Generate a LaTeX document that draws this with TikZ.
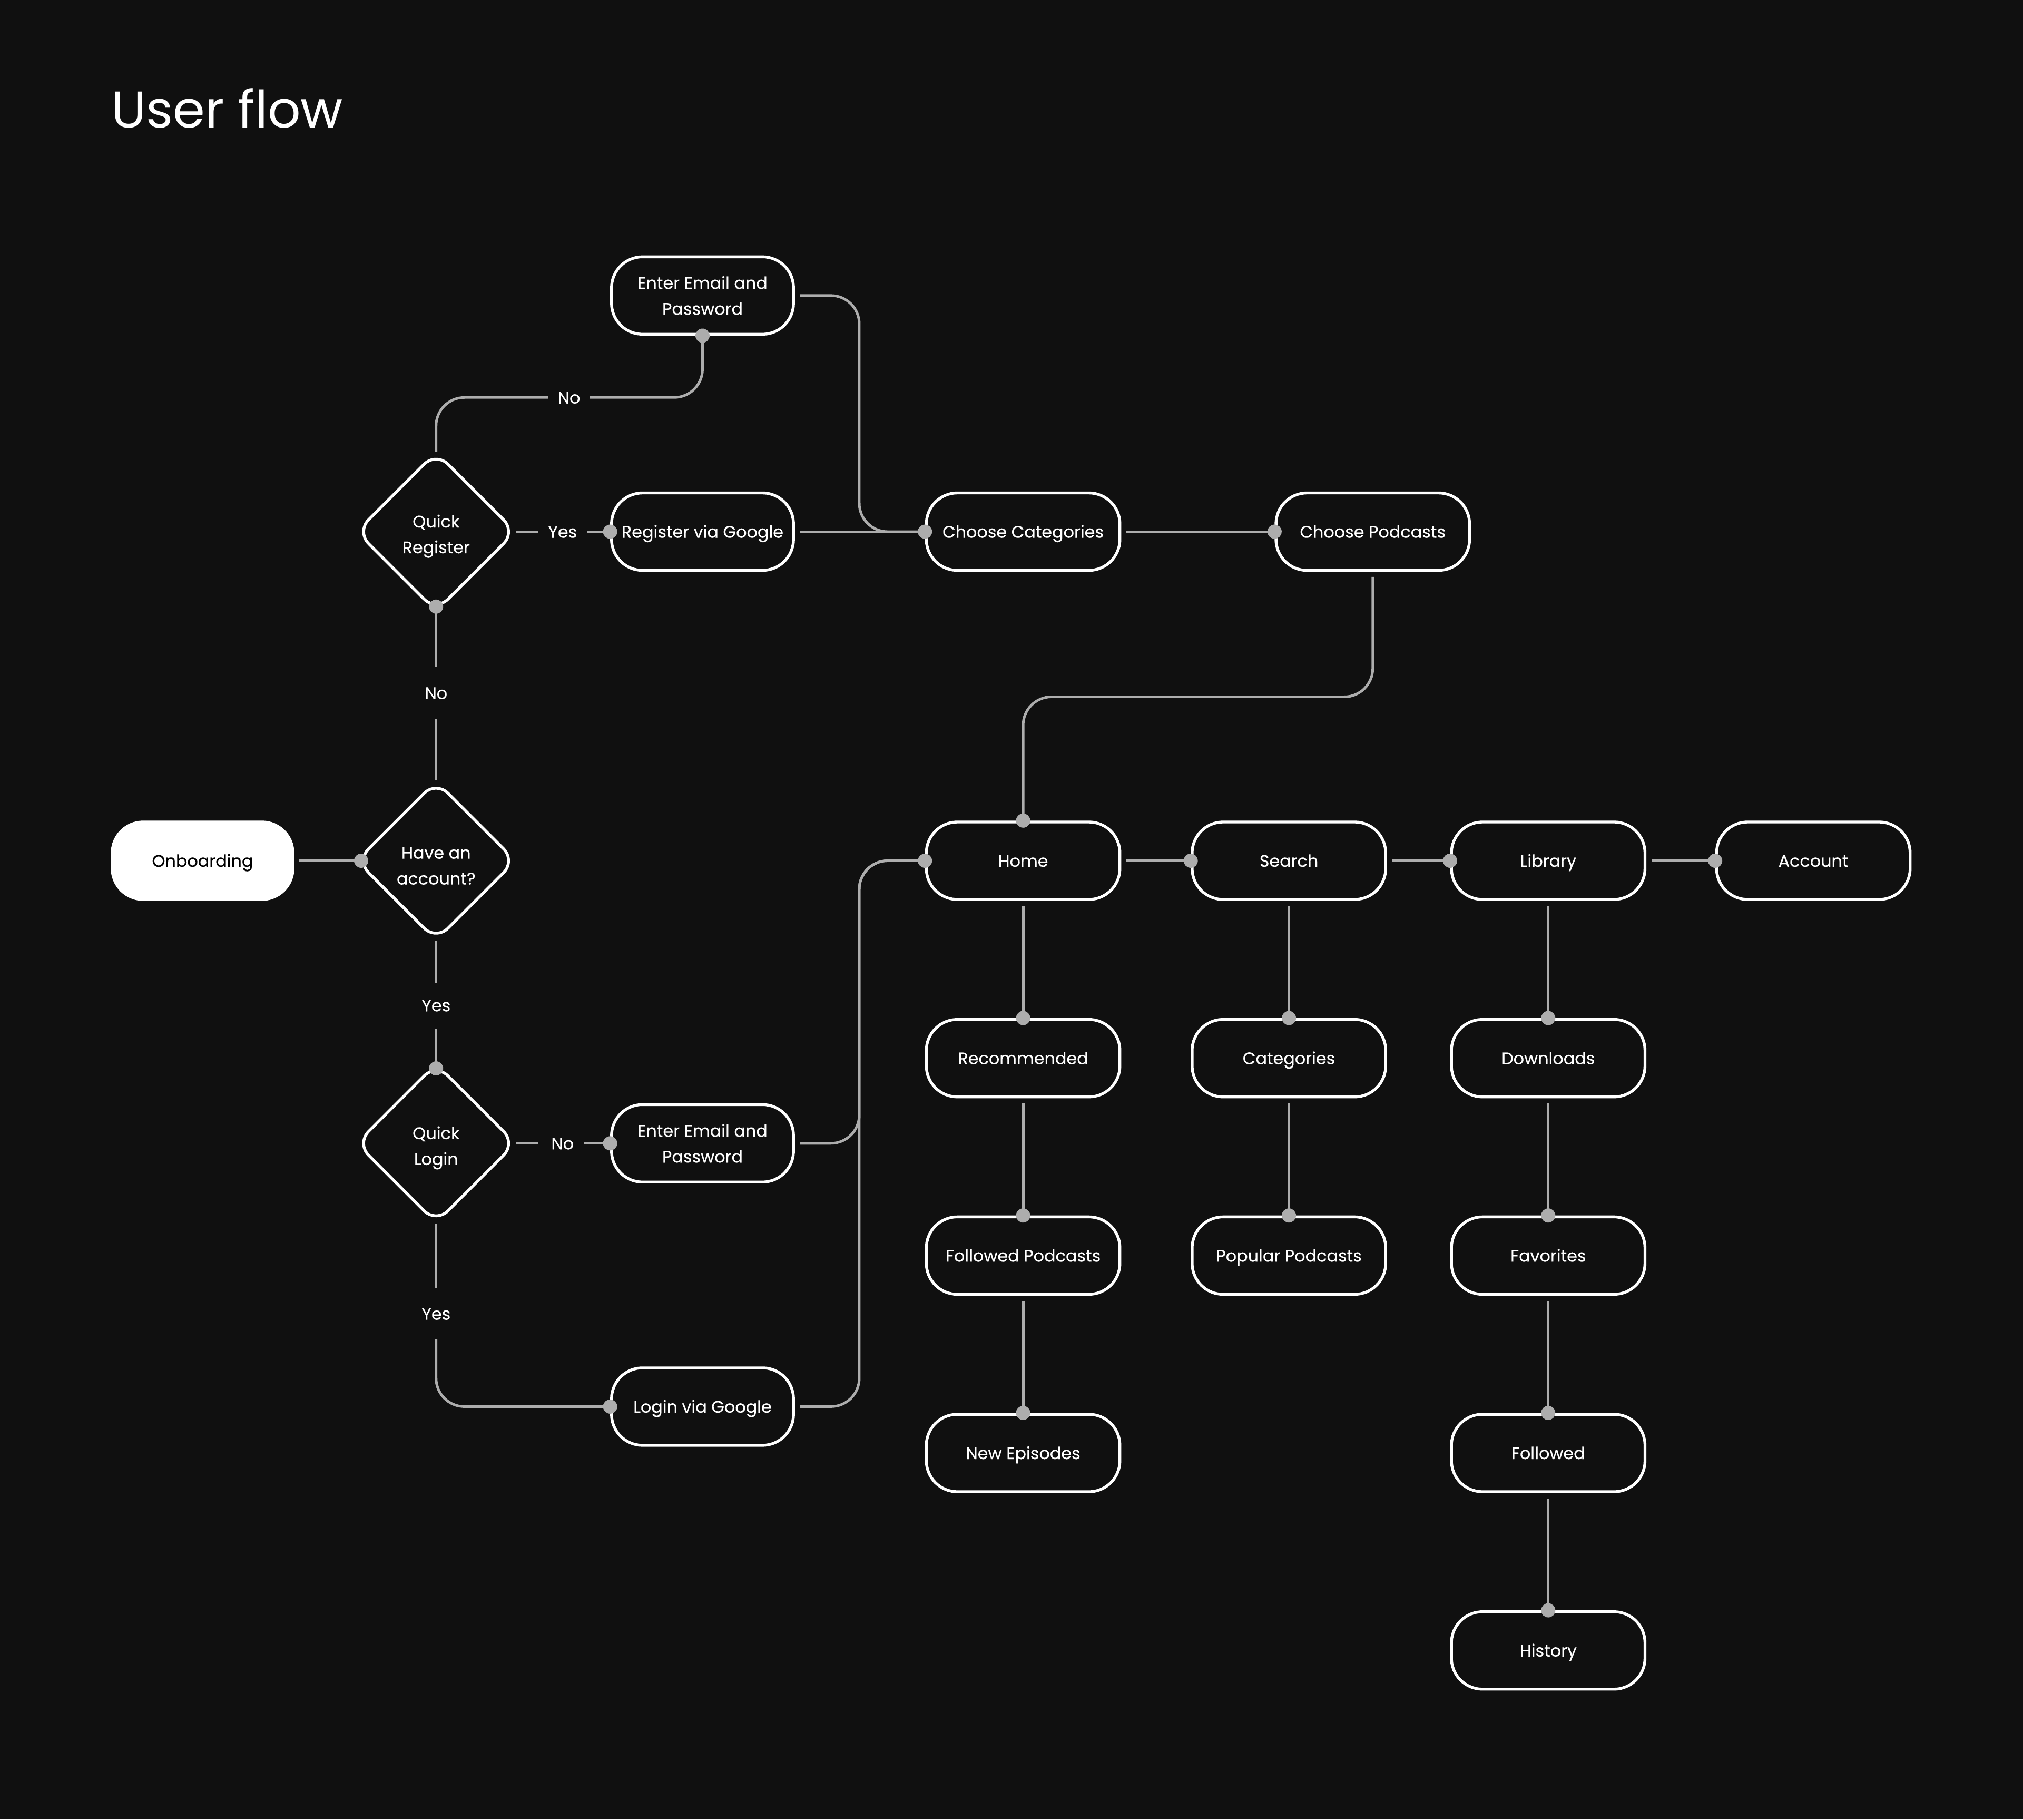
\documentclass[tikz,border=0pt]{standalone}
\usepackage{fontspec}
\setmainfont{Poppins}
\newfontfamily\popmed{Poppins}[FakeBold=0.35]
\usetikzlibrary{shapes.geometric,calc}
\definecolor{bg}{HTML}{101010}
\definecolor{lgrey}{HTML}{ADADAD}
\newcommand\nodefnt{\popmed\fontsize{13}{20}\selectfont}
\newcommand\titlefnt{\fontsize{40}{48}\selectfont}
\newcommand\dtop{\rule{0pt}{17pt}}
\tikzset{
  box/.style={draw=white, line width=2.2pt, rounded corners=24pt, minimum width=150pt, minimum height=60pt, fill=bg, text=white, font=\nodefnt, align=center, inner sep=0pt},
  one/.style={text height=9.4pt, text depth=0pt},
  sbox/.style={box, minimum width=141pt},
  dia/.style={diamond, draw=white, line width=2.2pt, rounded corners=13pt, minimum width=124pt, minimum height=124pt, aspect=1, inner sep=0pt, fill=bg, text=white, font=\nodefnt, align=center},
  conn/.style={draw=lgrey, line width=2pt, rounded corners=22pt},
  lbl/.style={text=white, font=\nodefnt, inner sep=0pt, text height=9.4pt, text depth=0pt},
  jdot/.style={fill=lgrey},
}
\begin{document}
\begin{tikzpicture}[x=1pt,y=-1pt]
\fill[bg] (0,0) rectangle (1568,1410);
\useasboundingbox (0,0) rectangle (1568,1410);

\node[anchor=base west, text=white, font=\titlefnt, inner sep=0pt] (title) at (86,99) {User flow};

% nodes
\node[box, one, fill=white, text=black, minimum width=140pt] (onb) at (157,667) {Onboarding};
\node[dia] (hac) at (338,667) {\dtop Have an\\account?};
\node[dia] (qr) at (338,412) {\dtop Quick\\Register};
\node[dia] (ql) at (338,886) {\dtop Quick\\Login};
\node[sbox] (eep1) at (544.5,229) {Enter Email and\\Password};
\node[sbox, one] (rvg) at (544.5,412) {Register via Google};
\node[sbox] (eep2) at (544.5,886) {Enter Email and\\Password};
\node[sbox, one] (lvg) at (544.5,1090) {Login via Google};
\node[box, one] (cc) at (793,412) {Choose Categories};
\node[box, one] (cp) at (1064,412) {Choose Podcasts};
\node[box, one] (home) at (793,667) {Home};
\node[box, one] (search) at (999,667) {Search};
\node[box, one] (lib) at (1200,667) {Library};
\node[box, one] (acc) at (1405.5,667) {Account};
\node[box, one] (rec) at (793,820) {Recommended};
\node[box, one] (fp) at (793,973) {Followed Podcasts};
\node[box, one] (ne) at (793,1126) {New Episodes};
\node[box, one] (cat) at (999,820) {Categories};
\node[box, one] (pp) at (999,973) {Popular Podcasts};
\node[box, one] (dl) at (1200,820) {Downloads};
\node[box, one] (fav) at (1200,973) {Favorites};
\node[box, one] (fol) at (1200,1126) {Followed};
\node[box, one] (hist) at (1200,1279) {History};

% labels
\node[lbl] (no1) at (338,537) {No};
\node[lbl] (yes1) at (338,779) {Yes};
\node[lbl] (yes2) at (436,412) {Yes};
\node[lbl] (no2) at (441,308) {No};
\node[lbl] (no3) at (436,886) {No};
\node[lbl] (yes3) at (338,1018) {Yes};

% diamond apex points
\coordinate (hacN) at ([yshift=-5pt]hac.north);
\coordinate (hacS) at ([yshift=5pt]hac.south);
\coordinate (hacW) at ([xshift=5pt]hac.west);
\coordinate (qrN) at ([yshift=-5pt]qr.north);
\coordinate (qrS) at ([yshift=5pt]qr.south);
\coordinate (qrE) at ([xshift=-5pt]qr.east);
\coordinate (qlN) at ([yshift=-5pt]ql.north);
\coordinate (qlS) at ([yshift=5pt]ql.south);
\coordinate (qlE) at ([xshift=-5pt]ql.east);
\coordinate (vx) at (666,0);
\coordinate (hy) at (0,540);

% connectors
\draw[conn] ([xshift=4pt]onb.east) -- (hacW);
\draw[conn] ([yshift=4pt]hacN) -- ([yshift=-20pt]no1.center);
\draw[conn] ([yshift=20pt]no1.center) -- (qrS);
\draw[conn] ([yshift=-4pt]hacS) -- ([yshift=17pt]yes1.center);
\draw[conn] ([yshift=-18pt]yes1.center) -- (qlN);
\draw[conn] ([xshift=4pt]qrE) -- ([xshift=-19pt]yes2.center);
\draw[conn] ([xshift=19pt]yes2.center) -- (rvg.west);
\draw[conn] ([yshift=4pt]qrN) -- (qrN |- no2.center) -- ([xshift=-16pt]no2.center);
\draw[conn] ([xshift=16pt]no2.center) -- (eep1.south |- no2.center) -- (eep1.south);
\draw[conn] ([xshift=4pt]rvg.east) -- (cc.west);
\draw[conn] ([xshift=4pt]eep1.east) -- (vx |- eep1.east) -- (vx |- cc.west) -- (cc.west);
\draw[conn] ([xshift=4pt]cc.east) -- (cp.west);
\draw[conn] ([yshift=-4pt]cp.south) -- (cp.south |- hy) -- (home.north |- hy) -- (home.north);
\draw[conn] ([xshift=4pt]qlE) -- ([xshift=-19pt]no3.center);
\draw[conn] ([xshift=17pt]no3.center) -- (eep2.west);
\draw[conn] ([yshift=-4pt]qlS) -- ([yshift=20pt]yes3.center);
\draw[conn] ([yshift=-20pt]yes3.center) -- (qlS |- lvg.west) -- (lvg.west);
\draw[conn] ([xshift=4pt]eep2.east) -- (vx |- eep2.east) -- (vx |- home.west) -- (home.west);
\draw[conn] ([xshift=4pt]lvg.east) -- (vx |- lvg.east) -- (vx |- home.west) -- (home.west);
\draw[conn] ([xshift=4pt]home.east) -- (search.west);
\draw[conn] ([xshift=4pt]search.east) -- (lib.west);
\draw[conn] ([xshift=4pt]lib.east) -- (acc.west);
\draw[conn] ([yshift=-4pt]home.south) -- (rec.north);
\draw[conn] ([yshift=-4pt]rec.south) -- (fp.north);
\draw[conn] ([yshift=-4pt]fp.south) -- (ne.north);
\draw[conn] ([yshift=-4pt]search.south) -- (cat.north);
\draw[conn] ([yshift=-4pt]cat.south) -- (pp.north);
\draw[conn] ([yshift=-4pt]lib.south) -- (dl.north);
\draw[conn] ([yshift=-4pt]dl.south) -- (fav.north);
\draw[conn] ([yshift=-4pt]fav.south) -- (fol.north);
\draw[conn] ([yshift=-4pt]fol.south) -- (hist.north);

% junction dots
\foreach \p in {hacW, qrS, qlN, rvg.west, eep1.south, cc.west, cp.west, home.north, eep2.west, lvg.west, home.west, search.west, lib.west, acc.west, rec.north, fp.north, ne.north, cat.north, pp.north, dl.north, fav.north, fol.north, hist.north}
  \fill[jdot] (\p) circle (5.5pt);
\end{tikzpicture}
\end{document}
